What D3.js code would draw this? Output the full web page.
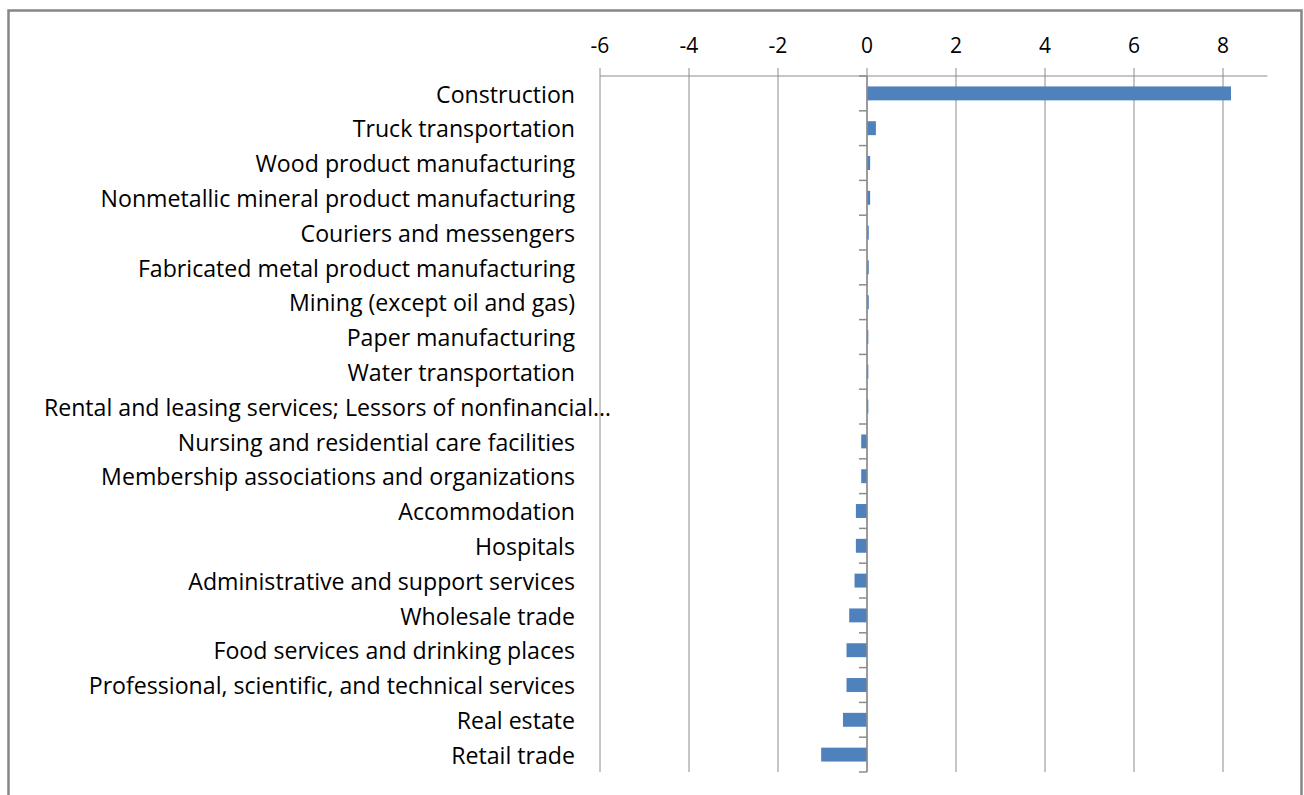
<!DOCTYPE html>
<html>
<head>
<meta charset="utf-8">
<script src="https://cdn.jsdelivr.net/npm/d3@7/dist/d3.min.js"></script>
<style>
  html, body { margin: 0; padding: 0; background: #fff; }
  svg { display: block; }
</style>
</head>
<body>
<svg id="chart" width="1304" height="795"></svg>
<script>
const categories = [
  "Construction",
  "Truck transportation",
  "Wood product manufacturing",
  "Nonmetallic mineral product manufacturing",
  "Couriers and messengers",
  "Fabricated metal product manufacturing",
  "Mining (except oil and gas)",
  "Paper manufacturing",
  "Water transportation",
  "Rental and leasing services; Lessors of nonfinancial…",
  "Nursing and residential care facilities",
  "Membership associations and organizations",
  "Accommodation",
  "Hospitals",
  "Administrative and support services",
  "Wholesale trade",
  "Food services and drinking places",
  "Professional, scientific, and technical services",
  "Real estate",
  "Retail trade"
];
const values = [8.18, 0.2, 0.07, 0.07, 0.04, 0.04, 0.04, 0.03, 0.03, 0.03,
  -0.13, -0.13, -0.25, -0.25, -0.28, -0.4, -0.46, -0.46, -0.54, -1.03];
const tickValues = [-6, -4, -2, 0, 2, 4, 6, 8];
const xDomain = [-6, 9];

const svg = d3.select("#chart");
const font = "'Open Sans', 'DejaVu Sans', sans-serif";

// frame
svg.append("rect").attr("x", 8.5).attr("y", 10.5).attr("width", 1293).attr("height", 800)
  .attr("fill", "none").attr("stroke", "#868686").attr("stroke-width", 2.5);

const pLeft = 600, pRight = 1267.5, pTop = 76, pBottom = 772;
const x = d3.scaleLinear().domain(xDomain).range([pLeft, pRight]);
const y = d3.scaleBand().domain(categories).range([pTop, pBottom]).paddingInner(0.6).paddingOuter(0.3);
const yb = d3.scaleBand().domain(categories).range([pTop, pBottom]);

// gridlines
svg.append("g").selectAll("line").data(tickValues).join("line")
  .attr("x1", d => x(d)).attr("x2", d => x(d))
  .attr("y1", pTop - 8).attr("y2", pBottom)
  .attr("stroke", "#8c8c8c").attr("stroke-width", 1);

// top axis line
svg.append("line").attr("x1", pLeft).attr("x2", pRight).attr("y1", pTop).attr("y2", pTop)
  .attr("stroke", "#8c8c8c").attr("stroke-width", 1);

// tick labels
svg.append("g").selectAll("text").data(tickValues).join("text")
  .attr("x", d => x(d)).attr("y", 53)
  .attr("text-anchor", "middle")
  .attr("font-family", font).attr("font-size", 21)
  .attr("fill", "#000")
  .text(d => d);

// bars
svg.append("g").selectAll("rect").data(values).join("rect")
  .attr("x", d => x(Math.min(0, d)))
  .attr("width", d => Math.abs(x(d) - x(0)))
  .attr("y", (d, i) => y(categories[i]))
  .attr("height", y.bandwidth())
  .attr("fill", "#4F81BD");

// vertical category axis at 0
const x0 = x(0);
svg.append("line").attr("x1", x0).attr("x2", x0).attr("y1", pTop).attr("y2", pBottom)
  .attr("stroke", "#8c8c8c").attr("stroke-width", 1.5);
svg.append("g").selectAll("line").data(d3.range(categories.length + 1)).join("line")
  .attr("x1", x0 - 8).attr("x2", x0)
  .attr("y1", i => pTop + i * yb.bandwidth()).attr("y2", i => pTop + i * yb.bandwidth())
  .attr("stroke", "#8c8c8c").attr("stroke-width", 1.5);

// category labels
const labels = svg.append("g").selectAll("text").data(categories).join("text")
  .attr("x", (d, i) => i === 9 ? 611 : 575)
  .attr("y", d => yb(d) + yb.bandwidth() / 2 + 1)
  .attr("dy", "0.35em")
  .attr("text-anchor", "end")
  .attr("font-family", font).attr("font-size", 19)
  .attr("fill", "#000")
  .text(d => d);

// fit font size so "Construction" measures ~139px like the reference
const w = labels.filter((d, i) => i === 0).node().getComputedTextLength();
const fs = 19 * 139 / w;
labels.attr("font-size", fs);
</script>
</body>
</html>
